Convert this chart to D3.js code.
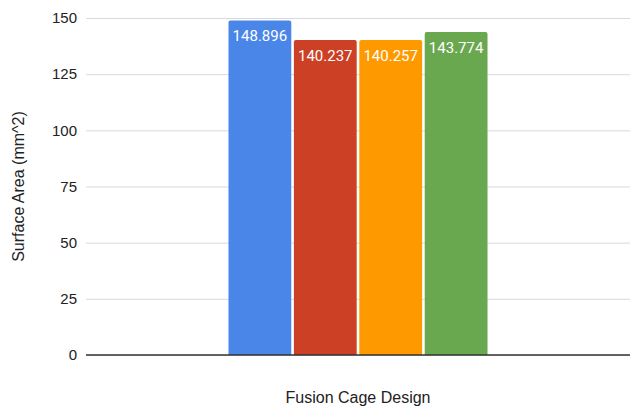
<!DOCTYPE html>
<html>
<head>
<meta charset="utf-8">
<script src="https://cdn.jsdelivr.net/npm/d3@7"></script>
<style>
  body { margin: 0; background: #fff; }
  text { font-family: "Liberation Sans", Arial, sans-serif; }
  text.lbl { font-family: Roboto, Arial, sans-serif; }
</style>
</head>
<body>
<svg id="viz" width="630" height="407"></svg>
<script>
const designs = ['Design 1', 'Design 2', 'Design 3', 'Design 4']
const areas = [148.896, 140.237, 140.257, 143.774]
const colors = ['#4a86e8', '#cc4125', '#ff9900', '#6aa84f']
const yTicks = [0, 25, 50, 75, 100, 125, 150]

const MARGIN = { top: 18, bottom: 52, left: 86, right: 0 }
const svg = d3.select('svg#viz')
const width = +svg.attr('width')
const height = +svg.attr('height')
const innerW = width - MARGIN.left - MARGIN.right
const innerH = height - MARGIN.top - MARGIN.bottom

const chart = svg.append('g').attr('transform', `translate(${MARGIN.left}, ${MARGIN.top})`)

const y = d3.scaleLinear().domain([0, 150]).range([innerH, 0])

// one category, four series grouped in the middle
const x0 = d3.scaleBand().domain(['Fusion Cage Design']).range([0, innerW]).paddingInner(0).paddingOuter(0.55)
const x1 = d3.scaleBand().domain(designs).range([0, x0.bandwidth()]).paddingInner(0.04)

// grid
chart.append('g')
    .call(d3.axisLeft(y).tickValues(yTicks).tickSize(-innerW).tickPadding(9))
    .call(g => g.select('.domain').remove())
    .call(g => g.selectAll('.tick line').attr('stroke', '#d9d9d9').attr('stroke-width', 1))
    .call(g => g.selectAll('.tick text').attr('fill', '#222').attr('font-size', 15))

const group = chart.append('g').attr('transform', `translate(${x0('Fusion Cage Design')},0)`)

const r = 2
group.selectAll('path.bar')
    .data(areas)
    .join('path')
    .attr('class', 'bar')
    .attr('fill', (d, i) => colors[i])
    .attr('d', (d, i) => {
        const bx = x1(designs[i]), bw = x1.bandwidth()
        const top = y(d), bot = y(0)
        return `M${bx},${bot}V${top + r}Q${bx},${top} ${bx + r},${top}H${bx + bw - r}Q${bx + bw},${top} ${bx + bw},${top + r}V${bot}Z`
    })

group.selectAll('text.lbl')
    .data(areas)
    .join('text')
    .attr('class', 'lbl')
    .attr('x', (d, i) => x1(designs[i]) + x1.bandwidth() / 2)
    .attr('y', d => y(d) + 21)
    .attr('text-anchor', 'middle')
    .attr('fill', '#fff')
    .attr('font-size', 15)
    .text(d => d)

// baseline
chart.append('line')
    .attr('x1', 0).attr('x2', innerW)
    .attr('y1', y(0)).attr('y2', y(0))
    .attr('stroke', '#333').attr('stroke-width', 1.5)

svg.append('text')
    .attr('x', MARGIN.left + innerW / 2)
    .attr('y', 403)
    .attr('text-anchor', 'middle')
    .attr('font-size', 16)
    .attr('fill', '#222')
    .text('Fusion Cage Design')

svg.append('text')
    .attr('transform', `translate(24, ${MARGIN.top + innerH / 2}) rotate(-90)`)
    .attr('text-anchor', 'middle')
    .attr('font-size', 16)
    .attr('fill', '#222')
    .text('Surface Area (mm^2)')
</script>
</body>
</html>
